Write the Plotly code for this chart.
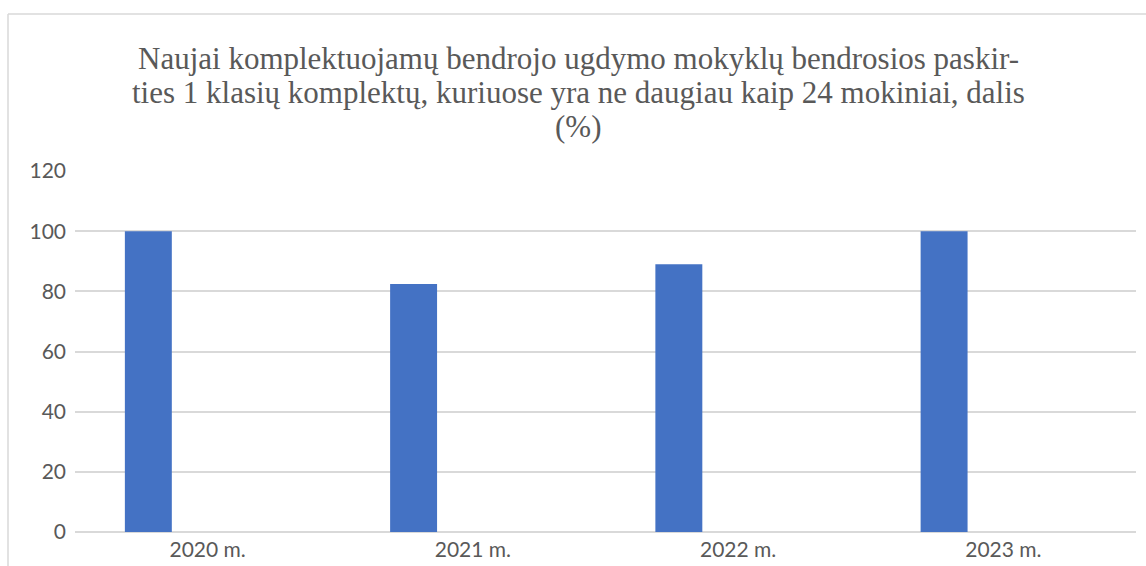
import plotly.graph_objects as go

categories = ["2020 m.", "2021 m.", "2022 m.", "2023 m."]
values = [100, 82.4, 89, 100]
y_ticks = [0, 20, 40, 60, 80, 100, 120]
title_lines = [
    "Naujai komplektuojamų bendrojo ugdymo mokyklų bendrosios paskir-",
    "ties 1 klasių komplektų, kuriuose yra ne daugiau kaip 24 mokiniai, dalis",
    "(%)",
]

W, H = 1146, 566
L, R = 75, 1136
TOP, BOT = 170.5, 532.5

def px_x(p):
    return (p - L) / (R - L)

def px_y(p):
    return (BOT - p) / (BOT - TOP)

fig = go.Figure()
fig.add_trace(go.Bar(
    x=categories, y=values,
    marker=dict(color="#4472C4", line=dict(width=0)),
    width=0.177, offset=-0.312,
    hoverinfo="x+y",
))

grid = "#d9d9d9"
fig.update_layout(
    width=W, height=H,
    margin=dict(l=L, r=W - R, t=TOP, b=H - BOT, autoexpand=False),
    paper_bgcolor="white", plot_bgcolor="white",
    showlegend=False,
    xaxis=dict(
        showgrid=False, showline=False, ticks="",
        tickfont=dict(family="Lato", size=21, color="#595959"),
        range=[-0.5, 3.5],
        automargin=False,
        ticklabelstandoff=3,
    ),
    yaxis=dict(
        range=[0, 120], tickvals=y_ticks,
        showgrid=True, gridcolor=grid, gridwidth=1.5,
        zeroline=True, zerolinecolor=grid, zerolinewidth=1.5,
        showline=False, ticks="",
        automargin=False,
        tickfont=dict(family="Lato", size=21, color="#595959"),
        ticklabelstandoff=8,
    ),
    shapes=[
        dict(type="line", xref="paper", yref="paper",
             x0=px_x(8), x1=px_x(1150), y0=px_y(13), y1=px_y(13),
             line=dict(color=grid, width=1.5)),
        dict(type="line", xref="paper", yref="paper",
             x0=px_x(8), x1=px_x(8), y0=px_y(13), y1=px_y(570),
             line=dict(color=grid, width=1.5)),
    ],
)

centers = [58, 92, 126]
for line, cy in zip(title_lines, centers):
    fig.add_annotation(
        text=line, xref="paper", yref="paper",
        x=px_x(578), y=px_y(cy), xanchor="center", yanchor="middle",
        showarrow=False,
        font=dict(family="Liberation Serif", size=31, color="#595959"),
    )

fig.write_html(
    "out.html",
    config={"displayModeBar": False},
    post_script="document.body.style.margin='0';document.body.style.overflow='hidden';",
)
